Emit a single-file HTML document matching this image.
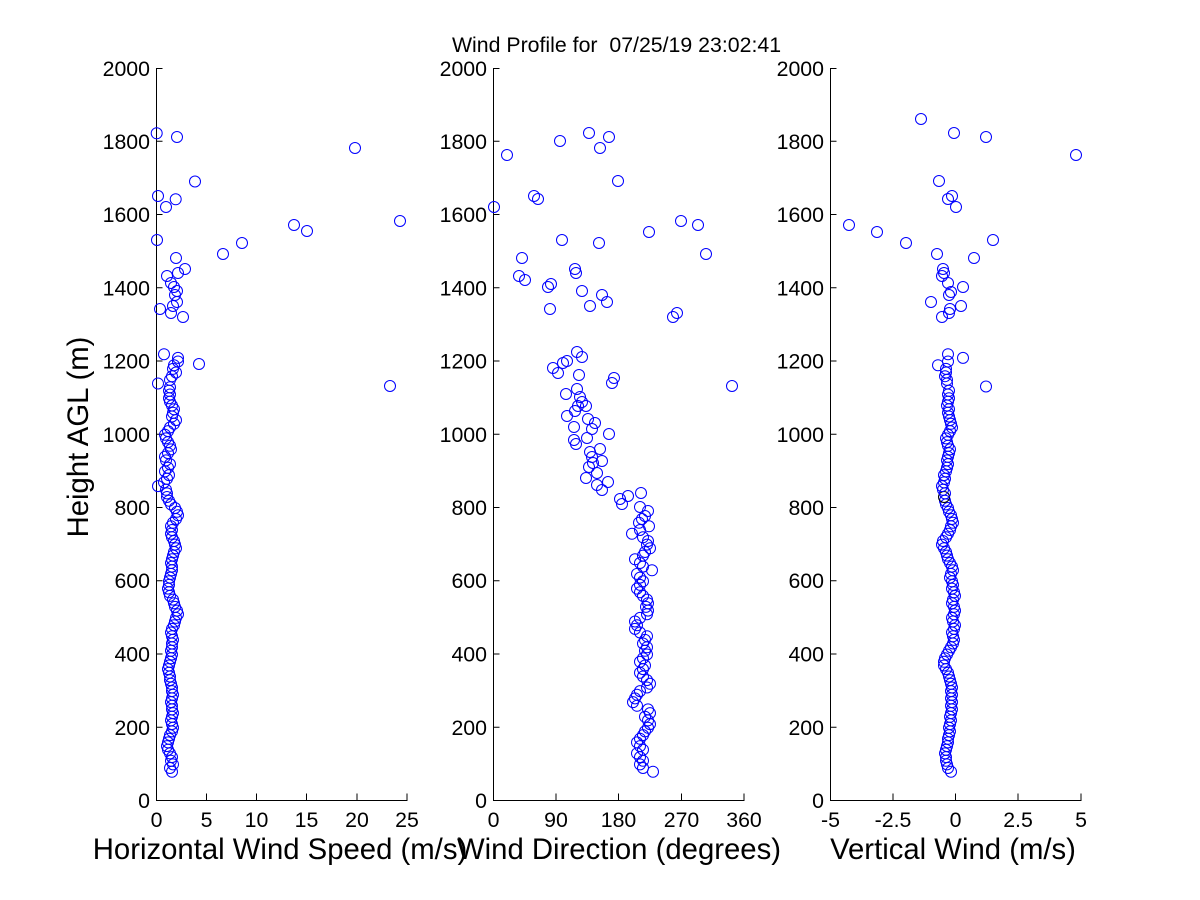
<!DOCTYPE html>
<html><head><meta charset="utf-8"><style>
html,body{margin:0;padding:0;background:#fff;}
svg{display:block;}
text{font-family:"Liberation Sans",Arial,sans-serif;fill:#000;}
.t{font-size:21.3px;}
.l{font-size:29.3px;}
.ax{stroke:#000;stroke-width:1;fill:none;}
.c circle{fill:none;stroke:#0000ff;stroke-width:1;}
</style></head><body>
<svg width="1200" height="900" viewBox="0 0 1200 900" xmlns="http://www.w3.org/2000/svg">
<rect width="1200" height="900" fill="#fff"/>
<text class="t" x="616.5" y="52" text-anchor="middle" style="white-space:pre">Wind Profile for  07/25/19 23:02:41</text>

<!-- Panel 1 axes -->
<path class="ax" d="M156.5 68V800.5H407.5M156.5 727.25h6M156.5 654h6M156.5 580.75h6M156.5 507.5h6M156.5 434.25h6M156.5 361h6M156.5 287.75h6M156.5 214.5h6M156.5 141.25h6M156.5 68.5h6M206.5 800.5v-7M256.5 800.5v-7M306.5 800.5v-7M357 800.5v-7M407 800.5v-7"/>
<g class="t" text-anchor="end">
<text x="150" y="808">0</text><text x="150" y="735">200</text><text x="150" y="661.5">400</text><text x="150" y="588">600</text><text x="150" y="515">800</text><text x="150" y="742" display="none"></text><text x="150" y="441.75">1000</text><text x="150" y="368.5">1200</text><text x="150" y="295.25">1400</text><text x="150" y="222">1600</text><text x="150" y="148.75">1800</text><text x="150" y="76">2000</text>
</g>
<g class="t" text-anchor="middle">
<text x="156.5" y="827">0</text><text x="206.5" y="827">5</text><text x="256.5" y="827">10</text><text x="306.5" y="827">15</text><text x="357" y="827">20</text><text x="407" y="827">25</text>
</g>
<text class="l" x="280" y="859" text-anchor="middle">Horizontal Wind Speed (m/s)</text>
<text class="l" transform="translate(88,437) rotate(-90)" text-anchor="middle">Height AGL (m)</text>

<!-- Panel 2 axes -->
<path class="ax" d="M493.5 68V800.5H744.5M493.5 727.25h6M493.5 654h6M493.5 580.75h6M493.5 507.5h6M493.5 434.25h6M493.5 361h6M493.5 287.75h6M493.5 214.5h6M493.5 141.25h6M493.5 68.5h6M556 800.5v-7M618.5 800.5v-7M681.5 800.5v-7M744 800.5v-7"/>
<g class="t" text-anchor="end">
<text x="487" y="808">0</text><text x="487" y="735">200</text><text x="487" y="661.5">400</text><text x="487" y="588">600</text><text x="487" y="515">800</text><text x="487" y="441.75">1000</text><text x="487" y="368.5">1200</text><text x="487" y="295.25">1400</text><text x="487" y="222">1600</text><text x="487" y="148.75">1800</text><text x="487" y="76">2000</text>
</g>
<g class="t" text-anchor="middle">
<text x="493.5" y="827">0</text><text x="556" y="827">90</text><text x="618.5" y="827">180</text><text x="681.5" y="827">270</text><text x="744" y="827">360</text>
</g>
<text class="l" x="619" y="859" text-anchor="middle">Wind Direction (degrees)</text>

<!-- Panel 3 axes -->
<path class="ax" d="M830.5 68V800.5H1081.5M830.5 727.25h6M830.5 654h6M830.5 580.75h6M830.5 507.5h6M830.5 434.25h6M830.5 361h6M830.5 287.75h6M830.5 214.5h6M830.5 141.25h6M830.5 68.5h6M893 800.5v-7M955.5 800.5v-7M1018 800.5v-7M1081 800.5v-7"/>
<g class="t" text-anchor="end">
<text x="824" y="808">0</text><text x="824" y="735">200</text><text x="824" y="661.5">400</text><text x="824" y="588">600</text><text x="824" y="515">800</text><text x="824" y="441.75">1000</text><text x="824" y="368.5">1200</text><text x="824" y="295.25">1400</text><text x="824" y="222">1600</text><text x="824" y="148.75">1800</text><text x="824" y="76">2000</text>
</g>
<g class="t" text-anchor="middle">
<text x="830.5" y="827">-5</text><text x="893" y="827">-2.5</text><text x="955.5" y="827">0</text><text x="1018" y="827">2.5</text><text x="1081" y="827">5</text>
</g>
<text class="l" x="953" y="859" text-anchor="middle">Vertical Wind (m/s)</text>

<!-- Panel 1 data -->
<g class="c">
<circle cx="172" cy="771.7" r="5.5"/><circle cx="170" cy="768" r="5.5"/><circle cx="173" cy="764.4" r="5.5"/><circle cx="171" cy="760.7" r="5.5"/><circle cx="172" cy="757.1" r="5.5"/><circle cx="170" cy="753.4" r="5.5"/><circle cx="168" cy="749.7" r="5.5"/><circle cx="167" cy="746.1" r="5.5"/><circle cx="168" cy="742.4" r="5.5"/><circle cx="169" cy="738.7" r="5.5"/>
<circle cx="170" cy="735.1" r="5.5"/><circle cx="172" cy="731.4" r="5.5"/><circle cx="173" cy="727.7" r="5.5"/><circle cx="172" cy="724.1" r="5.5"/><circle cx="171" cy="720.4" r="5.5"/><circle cx="172" cy="716.8" r="5.5"/><circle cx="173" cy="713.1" r="5.5"/><circle cx="172" cy="709.4" r="5.5"/><circle cx="172" cy="705.8" r="5.5"/><circle cx="171" cy="702.1" r="5.5"/>
<circle cx="172" cy="698.4" r="5.5"/><circle cx="173" cy="694.8" r="5.5"/><circle cx="172" cy="691.1" r="5.5"/><circle cx="172" cy="687.5" r="5.5"/><circle cx="171" cy="683.8" r="5.5"/><circle cx="170" cy="680.1" r="5.5"/><circle cx="170" cy="676.5" r="5.5"/><circle cx="169" cy="672.8" r="5.5"/><circle cx="168" cy="669.1" r="5.5"/><circle cx="169" cy="665.5" r="5.5"/>
<circle cx="170" cy="661.8" r="5.5"/><circle cx="171" cy="658.2" r="5.5"/><circle cx="172" cy="654.5" r="5.5"/><circle cx="171" cy="650.8" r="5.5"/><circle cx="172" cy="647.2" r="5.5"/><circle cx="172" cy="643.5" r="5.5"/><circle cx="173" cy="639.9" r="5.5"/><circle cx="172" cy="636.2" r="5.5"/><circle cx="171" cy="632.5" r="5.5"/><circle cx="172" cy="628.9" r="5.5"/>
<circle cx="174" cy="625.2" r="5.5"/><circle cx="175" cy="621.5" r="5.5"/><circle cx="176" cy="617.9" r="5.5"/><circle cx="178" cy="614.2" r="5.5"/><circle cx="177" cy="610.6" r="5.5"/><circle cx="175" cy="606.9" r="5.5"/><circle cx="174" cy="603.2" r="5.5"/><circle cx="173" cy="599.6" r="5.5"/><circle cx="170" cy="595.9" r="5.5"/><circle cx="169" cy="592.2" r="5.5"/>
<circle cx="168" cy="588.6" r="5.5"/><circle cx="169" cy="584.9" r="5.5"/><circle cx="169" cy="581.3" r="5.5"/><circle cx="170" cy="577.6" r="5.5"/><circle cx="171" cy="573.9" r="5.5"/><circle cx="172" cy="570.3" r="5.5"/><circle cx="172" cy="566.6" r="5.5"/><circle cx="171" cy="563" r="5.5"/><circle cx="172" cy="559.3" r="5.5"/><circle cx="173" cy="555.6" r="5.5"/>
<circle cx="174" cy="552" r="5.5"/><circle cx="176" cy="548.3" r="5.5"/><circle cx="175" cy="544.6" r="5.5"/><circle cx="174" cy="541" r="5.5"/><circle cx="172" cy="537.3" r="5.5"/><circle cx="171" cy="533.7" r="5.5"/><circle cx="172" cy="530" r="5.5"/><circle cx="171" cy="526.3" r="5.5"/><circle cx="173" cy="522.7" r="5.5"/><circle cx="176" cy="519" r="5.5"/>
<circle cx="178" cy="515.3" r="5.5"/><circle cx="177" cy="511.7" r="5.5"/><circle cx="175" cy="508" r="5.5"/><circle cx="171" cy="504.4" r="5.5"/><circle cx="169" cy="500.7" r="5.5"/><circle cx="167" cy="497" r="5.5"/><circle cx="167" cy="493.4" r="5.5"/><circle cx="166" cy="489.7" r="5.5"/><circle cx="158" cy="486.1" r="5.5"/><circle cx="164" cy="482.4" r="5.5"/>
<circle cx="167" cy="478.7" r="5.5"/><circle cx="169" cy="475.1" r="5.5"/><circle cx="165" cy="471.4" r="5.5"/><circle cx="168" cy="467.7" r="5.5"/><circle cx="170" cy="464.1" r="5.5"/><circle cx="166" cy="460.4" r="5.5"/><circle cx="165" cy="456.8" r="5.5"/><circle cx="168" cy="453.1" r="5.5"/><circle cx="171" cy="449.4" r="5.5"/><circle cx="170" cy="445.8" r="5.5"/>
<circle cx="168" cy="442.1" r="5.5"/><circle cx="166" cy="438.4" r="5.5"/><circle cx="165" cy="434.8" r="5.5"/><circle cx="168" cy="431.1" r="5.5"/><circle cx="170" cy="427.5" r="5.5"/><circle cx="174" cy="423.8" r="5.5"/><circle cx="176" cy="420.1" r="5.5"/><circle cx="172" cy="416.5" r="5.5"/><circle cx="173" cy="412.8" r="5.5"/><circle cx="174" cy="409.2" r="5.5"/>
<circle cx="172" cy="405.5" r="5.5"/><circle cx="170" cy="401.8" r="5.5"/><circle cx="169" cy="398.2" r="5.5"/><circle cx="170" cy="394.5" r="5.5"/><circle cx="169" cy="390.8" r="5.5"/><circle cx="170" cy="387.2" r="5.5"/><circle cx="158" cy="383.5" r="5.5"/><circle cx="170" cy="379.9" r="5.5"/><circle cx="172" cy="376.2" r="5.5"/><circle cx="176" cy="372.5" r="5.5"/>
<circle cx="173" cy="368.9" r="5.5"/><circle cx="174" cy="365.2" r="5.5"/><circle cx="178" cy="361.5" r="5.5"/><circle cx="178" cy="357.9" r="5.5"/><circle cx="164" cy="354.2" r="5.5"/><circle cx="199" cy="364" r="5.5"/><circle cx="390" cy="386" r="5.5"/>
<circle cx="156.7" cy="133.3" r="5.5"/><circle cx="177" cy="137" r="5.5"/><circle cx="355" cy="148" r="5.5"/><circle cx="195" cy="181.5" r="5.5"/><circle cx="158" cy="196" r="5.5"/><circle cx="175.7" cy="199.3" r="5.5"/><circle cx="166" cy="207" r="5.5"/><circle cx="294" cy="225" r="5.5"/><circle cx="400" cy="221" r="5.5"/><circle cx="307" cy="231" r="5.5"/>
<circle cx="157" cy="240" r="5.5"/><circle cx="242" cy="243" r="5.5"/><circle cx="223" cy="254" r="5.5"/><circle cx="176" cy="258" r="5.5"/><circle cx="185" cy="269" r="5.5"/><circle cx="178" cy="273" r="5.5"/><circle cx="167" cy="276" r="5.5"/><circle cx="171" cy="283" r="5.5"/><circle cx="174" cy="287" r="5.5"/><circle cx="177" cy="291" r="5.5"/>
<circle cx="175" cy="295" r="5.5"/><circle cx="177" cy="302" r="5.5"/><circle cx="173" cy="306" r="5.5"/><circle cx="160" cy="309" r="5.5"/><circle cx="171" cy="313" r="5.5"/><circle cx="183" cy="317" r="5.5"/>
</g>

<!-- Panel 2 data -->
<g class="c">
<circle cx="653" cy="771.7" r="5.5"/><circle cx="643" cy="768" r="5.5"/><circle cx="640" cy="764.4" r="5.5"/><circle cx="643" cy="760.7" r="5.5"/><circle cx="640" cy="757.1" r="5.5"/><circle cx="637" cy="753.4" r="5.5"/><circle cx="643" cy="749.7" r="5.5"/><circle cx="640" cy="746.1" r="5.5"/><circle cx="637" cy="742.4" r="5.5"/><circle cx="640" cy="738.7" r="5.5"/>
<circle cx="643" cy="735.1" r="5.5"/><circle cx="645" cy="731.4" r="5.5"/><circle cx="648" cy="727.7" r="5.5"/><circle cx="650" cy="724.1" r="5.5"/><circle cx="648" cy="720.4" r="5.5"/><circle cx="645" cy="716.8" r="5.5"/><circle cx="650" cy="713.1" r="5.5"/><circle cx="648" cy="709.4" r="5.5"/><circle cx="637" cy="705.8" r="5.5"/><circle cx="633" cy="702.1" r="5.5"/>
<circle cx="635" cy="698.4" r="5.5"/><circle cx="637" cy="694.8" r="5.5"/><circle cx="640" cy="691.1" r="5.5"/><circle cx="647" cy="687.5" r="5.5"/><circle cx="650" cy="683.8" r="5.5"/><circle cx="647" cy="680.1" r="5.5"/><circle cx="643" cy="676.5" r="5.5"/><circle cx="640" cy="672.8" r="5.5"/><circle cx="643" cy="669.1" r="5.5"/><circle cx="645" cy="665.5" r="5.5"/>
<circle cx="640" cy="661.8" r="5.5"/><circle cx="643" cy="658.2" r="5.5"/><circle cx="647" cy="654.5" r="5.5"/><circle cx="645" cy="650.8" r="5.5"/><circle cx="647" cy="647.2" r="5.5"/><circle cx="643" cy="643.5" r="5.5"/><circle cx="645" cy="639.9" r="5.5"/><circle cx="647" cy="636.2" r="5.5"/><circle cx="640" cy="632.5" r="5.5"/><circle cx="635" cy="628.9" r="5.5"/>
<circle cx="637" cy="625.2" r="5.5"/><circle cx="635" cy="621.5" r="5.5"/><circle cx="640" cy="617.9" r="5.5"/><circle cx="647" cy="614.2" r="5.5"/><circle cx="648" cy="610.6" r="5.5"/><circle cx="646" cy="606.9" r="5.5"/><circle cx="648" cy="603.2" r="5.5"/><circle cx="647" cy="599.6" r="5.5"/><circle cx="643" cy="595.9" r="5.5"/><circle cx="640" cy="592.2" r="5.5"/>
<circle cx="637" cy="588.6" r="5.5"/><circle cx="640" cy="584.9" r="5.5"/><circle cx="643" cy="581.3" r="5.5"/><circle cx="640" cy="577.6" r="5.5"/><circle cx="637" cy="573.9" r="5.5"/><circle cx="652" cy="570.3" r="5.5"/><circle cx="643" cy="566.6" r="5.5"/><circle cx="640" cy="563" r="5.5"/><circle cx="635" cy="559.3" r="5.5"/><circle cx="643" cy="555.6" r="5.5"/>
<circle cx="645" cy="552" r="5.5"/><circle cx="650" cy="548.3" r="5.5"/><circle cx="647" cy="544.6" r="5.5"/><circle cx="648" cy="541" r="5.5"/><circle cx="643" cy="537.3" r="5.5"/><circle cx="632" cy="533.7" r="5.5"/><circle cx="640" cy="530" r="5.5"/><circle cx="649" cy="526.3" r="5.5"/><circle cx="639" cy="522.7" r="5.5"/>
<circle cx="642" cy="519" r="5.5"/><circle cx="645" cy="516" r="5.5"/><circle cx="648" cy="511" r="5.5"/><circle cx="640" cy="507" r="5.5"/><circle cx="622" cy="504" r="5.5"/><circle cx="620" cy="499" r="5.5"/><circle cx="628" cy="496" r="5.5"/><circle cx="641" cy="493" r="5.5"/><circle cx="602" cy="490" r="5.5"/><circle cx="597" cy="485" r="5.5"/>
<circle cx="608" cy="482" r="5.5"/><circle cx="586" cy="478" r="5.5"/><circle cx="597" cy="473" r="5.5"/><circle cx="589" cy="467" r="5.5"/><circle cx="593" cy="463" r="5.5"/><circle cx="602" cy="461" r="5.5"/><circle cx="592" cy="457" r="5.5"/><circle cx="590" cy="452" r="5.5"/><circle cx="600" cy="449" r="5.5"/><circle cx="576" cy="444" r="5.5"/>
<circle cx="574" cy="440" r="5.5"/><circle cx="587" cy="438" r="5.5"/><circle cx="609" cy="434" r="5.5"/><circle cx="592" cy="429" r="5.5"/><circle cx="574" cy="427" r="5.5"/><circle cx="595" cy="423" r="5.5"/><circle cx="588" cy="419" r="5.5"/><circle cx="567" cy="416" r="5.5"/><circle cx="575" cy="411" r="5.5"/><circle cx="578" cy="406" r="5.5"/>
<circle cx="586" cy="406" r="5.5"/><circle cx="582" cy="402" r="5.5"/><circle cx="580" cy="397" r="5.5"/><circle cx="566" cy="394" r="5.5"/><circle cx="577" cy="389" r="5.5"/><circle cx="732" cy="386" r="5.5"/><circle cx="612" cy="383" r="5.5"/><circle cx="614" cy="378" r="5.5"/><circle cx="579" cy="375" r="5.5"/><circle cx="558" cy="373" r="5.5"/>
<circle cx="553" cy="368" r="5.5"/><circle cx="563" cy="363" r="5.5"/><circle cx="567" cy="361" r="5.5"/><circle cx="582" cy="357" r="5.5"/><circle cx="577" cy="352" r="5.5"/>
<circle cx="589" cy="133" r="5.5"/><circle cx="609" cy="137" r="5.5"/><circle cx="560" cy="141" r="5.5"/><circle cx="600" cy="148" r="5.5"/><circle cx="507" cy="155" r="5.5"/><circle cx="618" cy="181" r="5.5"/><circle cx="534" cy="196" r="5.5"/><circle cx="538" cy="199" r="5.5"/><circle cx="494" cy="207" r="5.5"/><circle cx="681" cy="221" r="5.5"/>
<circle cx="698" cy="225" r="5.5"/><circle cx="649" cy="232" r="5.5"/><circle cx="562" cy="240" r="5.5"/><circle cx="599" cy="243" r="5.5"/><circle cx="706" cy="254" r="5.5"/><circle cx="522" cy="258" r="5.5"/><circle cx="575" cy="269" r="5.5"/><circle cx="576" cy="273" r="5.5"/><circle cx="519" cy="276" r="5.5"/><circle cx="525" cy="280" r="5.5"/>
<circle cx="551" cy="284" r="5.5"/><circle cx="548" cy="287" r="5.5"/><circle cx="582" cy="291" r="5.5"/><circle cx="602" cy="295" r="5.5"/><circle cx="607" cy="302" r="5.5"/><circle cx="590" cy="306" r="5.5"/><circle cx="550" cy="309" r="5.5"/><circle cx="677" cy="313" r="5.5"/><circle cx="673" cy="317" r="5.5"/>
</g>

<!-- Panel 3 data -->
<g class="c">
<circle cx="951" cy="771.7" r="5.5"/><circle cx="948" cy="768" r="5.5"/><circle cx="947" cy="764.4" r="5.5"/><circle cx="946" cy="760.7" r="5.5"/><circle cx="946" cy="757.1" r="5.5"/><circle cx="945" cy="753.4" r="5.5"/><circle cx="946" cy="749.7" r="5.5"/><circle cx="947" cy="746.1" r="5.5"/><circle cx="948" cy="742.4" r="5.5"/><circle cx="948" cy="738.7" r="5.5"/>
<circle cx="949" cy="735.1" r="5.5"/><circle cx="950" cy="731.4" r="5.5"/><circle cx="949" cy="727.7" r="5.5"/><circle cx="950" cy="724.1" r="5.5"/><circle cx="951" cy="720.4" r="5.5"/><circle cx="950" cy="716.8" r="5.5"/><circle cx="951" cy="713.1" r="5.5"/><circle cx="952" cy="709.4" r="5.5"/><circle cx="951" cy="705.8" r="5.5"/><circle cx="952" cy="702.1" r="5.5"/>
<circle cx="951" cy="698.4" r="5.5"/><circle cx="952" cy="694.8" r="5.5"/><circle cx="951" cy="691.1" r="5.5"/><circle cx="952" cy="687.5" r="5.5"/><circle cx="951" cy="683.8" r="5.5"/><circle cx="950" cy="680.1" r="5.5"/><circle cx="949" cy="676.5" r="5.5"/><circle cx="948" cy="672.8" r="5.5"/><circle cx="946" cy="669.1" r="5.5"/><circle cx="944" cy="665.5" r="5.5"/>
<circle cx="944" cy="661.8" r="5.5"/><circle cx="945" cy="658.2" r="5.5"/><circle cx="947" cy="654.5" r="5.5"/><circle cx="949" cy="650.8" r="5.5"/><circle cx="951" cy="647.2" r="5.5"/><circle cx="953" cy="643.5" r="5.5"/><circle cx="954" cy="639.9" r="5.5"/><circle cx="953" cy="636.2" r="5.5"/><circle cx="952" cy="632.5" r="5.5"/><circle cx="954" cy="628.9" r="5.5"/>
<circle cx="955" cy="625.2" r="5.5"/><circle cx="953" cy="621.5" r="5.5"/><circle cx="952" cy="617.9" r="5.5"/><circle cx="954" cy="614.2" r="5.5"/><circle cx="955" cy="610.6" r="5.5"/><circle cx="954" cy="606.9" r="5.5"/><circle cx="952" cy="603.2" r="5.5"/><circle cx="953" cy="599.6" r="5.5"/><circle cx="955" cy="595.9" r="5.5"/><circle cx="954" cy="592.2" r="5.5"/>
<circle cx="952" cy="588.6" r="5.5"/><circle cx="953" cy="584.9" r="5.5"/><circle cx="952" cy="581.3" r="5.5"/><circle cx="950" cy="577.6" r="5.5"/><circle cx="951" cy="573.9" r="5.5"/><circle cx="953" cy="570.3" r="5.5"/><circle cx="952" cy="566.6" r="5.5"/><circle cx="950" cy="563" r="5.5"/><circle cx="948" cy="559.3" r="5.5"/><circle cx="947" cy="555.6" r="5.5"/>
<circle cx="946" cy="552" r="5.5"/><circle cx="944" cy="548.3" r="5.5"/><circle cx="942" cy="544.6" r="5.5"/><circle cx="943" cy="541" r="5.5"/><circle cx="946" cy="537.3" r="5.5"/><circle cx="948" cy="533.7" r="5.5"/><circle cx="950" cy="530" r="5.5"/><circle cx="951" cy="526.3" r="5.5"/><circle cx="953" cy="522.7" r="5.5"/><circle cx="952" cy="519" r="5.5"/>
<circle cx="951" cy="515.3" r="5.5"/><circle cx="949" cy="511.7" r="5.5"/><circle cx="948" cy="508" r="5.5"/><circle cx="946" cy="504.4" r="5.5"/><circle cx="945" cy="500.7" r="5.5"/><circle cx="944" cy="497" r="5.5" style="stroke:#000"/><circle cx="945" cy="493.4" r="5.5"/><circle cx="943" cy="489.7" r="5.5"/><circle cx="942" cy="486.1" r="5.5"/><circle cx="944" cy="482.4" r="5.5"/>
<circle cx="945" cy="478.7" r="5.5"/><circle cx="944" cy="475.1" r="5.5"/><circle cx="946" cy="471.4" r="5.5"/><circle cx="947" cy="467.7" r="5.5"/><circle cx="948" cy="464.1" r="5.5"/><circle cx="947" cy="460.4" r="5.5"/><circle cx="948" cy="456.8" r="5.5"/><circle cx="949" cy="453.1" r="5.5"/><circle cx="950" cy="449.4" r="5.5"/><circle cx="948" cy="445.8" r="5.5"/>
<circle cx="947" cy="442.1" r="5.5"/><circle cx="946" cy="438.4" r="5.5"/><circle cx="948" cy="434.8" r="5.5"/><circle cx="950" cy="431.1" r="5.5"/><circle cx="952" cy="427.5" r="5.5"/><circle cx="951" cy="423.8" r="5.5"/><circle cx="950" cy="420.1" r="5.5"/><circle cx="949" cy="416.5" r="5.5"/><circle cx="948" cy="412.8" r="5.5"/><circle cx="949" cy="409.2" r="5.5"/>
<circle cx="947" cy="405.5" r="5.5"/><circle cx="948" cy="401.8" r="5.5"/><circle cx="949" cy="398.2" r="5.5"/><circle cx="948" cy="394.5" r="5.5"/><circle cx="949" cy="390.8" r="5.5"/><circle cx="986" cy="386.5" r="5.5"/><circle cx="947" cy="383.5" r="5.5"/><circle cx="947" cy="379.9" r="5.5"/><circle cx="945" cy="376.2" r="5.5"/><circle cx="946" cy="372.5" r="5.5"/>
<circle cx="946" cy="368.9" r="5.5"/><circle cx="938" cy="365.2" r="5.5"/><circle cx="948" cy="361.5" r="5.5"/><circle cx="963" cy="357.9" r="5.5"/><circle cx="948" cy="354.2" r="5.5"/>
<circle cx="921" cy="119" r="5.5"/><circle cx="954" cy="133" r="5.5"/><circle cx="986" cy="137" r="5.5"/><circle cx="1076" cy="155" r="5.5"/><circle cx="939" cy="181" r="5.5"/><circle cx="952" cy="196" r="5.5"/><circle cx="948" cy="199" r="5.5"/><circle cx="956" cy="207" r="5.5"/><circle cx="849" cy="225" r="5.5"/><circle cx="877" cy="232" r="5.5"/>
<circle cx="906" cy="243" r="5.5"/><circle cx="993" cy="240" r="5.5"/><circle cx="937" cy="254" r="5.5"/><circle cx="974" cy="258" r="5.5"/><circle cx="943" cy="269" r="5.5"/><circle cx="944" cy="273" r="5.5"/><circle cx="942" cy="276" r="5.5"/><circle cx="948" cy="283" r="5.5"/><circle cx="963" cy="287" r="5.5"/><circle cx="951" cy="292" r="5.5"/>
<circle cx="949" cy="295" r="5.5"/><circle cx="931" cy="302" r="5.5"/><circle cx="961" cy="306" r="5.5"/><circle cx="950" cy="309" r="5.5"/><circle cx="949" cy="313" r="5.5"/><circle cx="942" cy="317" r="5.5"/>
</g>
</svg>
</body></html>
